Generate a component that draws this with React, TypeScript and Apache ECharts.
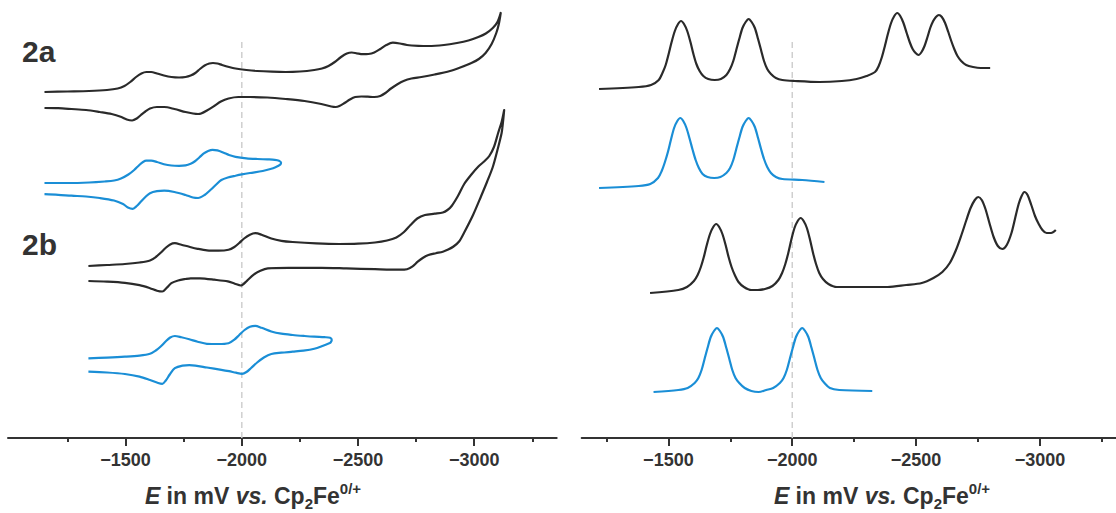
import { useEffect, useRef } from "react";
import * as echarts from "echarts";

// Potential axis (mV vs Cp2Fe0/+), drawn reversed
const majorTicks = [-1500, -2000, -2500, -3000];
const minorTicks = [-1250, -1750, -2250, -2750, -3250];
const refPotential = -2000;
const refLineTop = 396;

// Left panel: cyclic voltammograms [E (mV), I (a.u., stacked offset)]
const cv2aBlack: [number, number][] = [
  [-1151, 346], [-1250, 346.5], [-1343, 347], [-1420, 348], [-1466, 349.5], [-1495, 352],
  [-1520, 356], [-1545, 361], [-1568, 364.5], [-1589, 366], [-1610, 366], [-1635, 364.5],
  [-1665, 362.5], [-1697, 361], [-1730, 360.5], [-1758, 361], [-1780, 362.5], [-1800, 365],
  [-1820, 369], [-1840, 372.5], [-1860, 374.5], [-1876, 375], [-1895, 374.5], [-1915, 373],
  [-1945, 371], [-1973, 369.5], [-2020, 368], [-2066, 367], [-2130, 366.3], [-2189, 366],
  [-2250, 366.5], [-2312, 368], [-2345, 369.5], [-2373, 372], [-2400, 376], [-2427, 381],
  [-2452, 384.5], [-2473, 385.5], [-2495, 384.7], [-2520, 383.8], [-2545, 384], [-2570, 385.5],
  [-2596, 389], [-2622, 393], [-2650, 395.3], [-2680, 394.5], [-2711, 393], [-2760, 392.2],
  [-2803, 392], [-2870, 393], [-2926, 395], [-2975, 397.5], [-3018, 401], [-3050, 404.5],
  [-3080, 410], [-3100, 416], [-3114, 425],
  [-3106, 414], [-3095, 405], [-3075, 394], [-3049, 385], [-3020, 379], [-2988, 375],
  [-2940, 370.5], [-2896, 367], [-2830, 363.5], [-2773, 361], [-2730, 359.5], [-2696, 357],
  [-2668, 353.5], [-2642, 349.5], [-2618, 345], [-2596, 342], [-2570, 341], [-2542, 341.3],
  [-2515, 341.5], [-2488, 341], [-2465, 338.5], [-2442, 335], [-2420, 332], [-2404, 331],
  [-2385, 331.5], [-2342, 334], [-2270, 337], [-2189, 339], [-2110, 340.5], [-2035, 341],
  [-1985, 341], [-1943, 339.5], [-1910, 336.5], [-1881, 332], [-1850, 327.5], [-1825, 324.5],
  [-1812, 324], [-1790, 324.5], [-1758, 326], [-1710, 329], [-1666, 331], [-1635, 331],
  [-1605, 329.5], [-1585, 326.5], [-1566, 323], [-1548, 319.5], [-1528, 317.5], [-1505, 318.5],
  [-1482, 321], [-1440, 324], [-1389, 326], [-1330, 328], [-1267, 329], [-1210, 329.8],
  [-1151, 330],
];
const cv2aBlue: [number, number][] = [
  [-1151, 255], [-1250, 255], [-1343, 255.5], [-1410, 256.5], [-1451, 257.5], [-1480, 259.5],
  [-1512, 263.5], [-1537, 268], [-1559, 273], [-1575, 276], [-1589, 277.3], [-1610, 277.3],
  [-1635, 276], [-1665, 273.8], [-1697, 272.5], [-1730, 272.2], [-1758, 272.6], [-1780, 274.2],
  [-1797, 276.5], [-1817, 280.5], [-1835, 284.3], [-1855, 287], [-1874, 288.2], [-1895, 287.6],
  [-1920, 285.5], [-1945, 283], [-1973, 281.2], [-2020, 279.7], [-2066, 279], [-2110, 278.6],
  [-2142, 278.2], [-2160, 277.3], [-2169, 275.3],
  [-2166, 273.5], [-2158, 272.3], [-2145, 270.8], [-2127, 269.2], [-2090, 267], [-2035, 265],
  [-2000, 263.6], [-1973, 262.3], [-1940, 260.5], [-1912, 258], [-1890, 253.5], [-1866, 248.2],
  [-1840, 243], [-1812, 240], [-1790, 240.5], [-1758, 243], [-1710, 246], [-1666, 247.3],
  [-1635, 246.8], [-1605, 244.8], [-1585, 241], [-1566, 236.5], [-1548, 232], [-1531, 229.2],
  [-1510, 230.5], [-1489, 234], [-1450, 237.5], [-1389, 240], [-1330, 241.5], [-1267, 242.3],
  [-1210, 243.2], [-1151, 243.8],
];
const cv2bBlack: [number, number][] = [
  [-1340, 172], [-1420, 173], [-1497, 174], [-1560, 175.5], [-1605, 177.5], [-1630, 181],
  [-1651, 185.3], [-1672, 190], [-1692, 193.6], [-1712, 194.8], [-1740, 193.3], [-1774, 191.2],
  [-1810, 189.2], [-1850, 187.6], [-1900, 187.3], [-1943, 188.2], [-1968, 191], [-1989, 195],
  [-2010, 199.5], [-2035, 203.3], [-2058, 204.8], [-2085, 203.3], [-2127, 199.5], [-2170, 197.2],
  [-2219, 196], [-2320, 194.6], [-2419, 194], [-2500, 194.3], [-2573, 195.5], [-2625, 197.5],
  [-2665, 200.5], [-2698, 206], [-2726, 213], [-2755, 219.5], [-2788, 223], [-2830, 224.3],
  [-2865, 225.5], [-2885, 228], [-2903, 232], [-2930, 242], [-2957, 254], [-2988, 263.5],
  [-3018, 271.5], [-3045, 277], [-3065, 282], [-3085, 291], [-3103, 305], [-3118, 316],
  [-3129, 328],
  [-3124, 316], [-3118, 305], [-3100, 288], [-3080, 271], [-3055, 256], [-3030, 242],
  [-2995, 223], [-2957, 205.5], [-2935, 196.5], [-2911, 191.5], [-2888, 188.5], [-2865, 186.3],
  [-2835, 184.8], [-2803, 183], [-2780, 180.2], [-2757, 176.3], [-2735, 171.7], [-2711, 168.8],
  [-2680, 168.3], [-2573, 168.8], [-2450, 169.6], [-2342, 170.2], [-2200, 170.2], [-2112, 169.7],
  [-2080, 167.3], [-2050, 163.2], [-2022, 157.2], [-1996, 152.5], [-1970, 154.3], [-1940, 156.6],
  [-1881, 158.3], [-1820, 159.6], [-1780, 159.7], [-1758, 159], [-1726, 157.5], [-1697, 154.8],
  [-1676, 150], [-1658, 146.5], [-1635, 147.3], [-1605, 149.8], [-1560, 152.8], [-1497, 155.2],
  [-1420, 156.4], [-1340, 157],
];
const cv2bBlue: [number, number][] = [
  [-1340, 79.7], [-1420, 80.4], [-1497, 81.3], [-1560, 82.4], [-1605, 84.2], [-1630, 87.5],
  [-1651, 91.5], [-1672, 96.5], [-1692, 100.5], [-1712, 102], [-1740, 100.7], [-1774, 98.7],
  [-1810, 96.3], [-1850, 94.2], [-1900, 94], [-1943, 94.8], [-1968, 98.3], [-1989, 103],
  [-2012, 108], [-2035, 111.3], [-2058, 112.2], [-2085, 110.2], [-2127, 106.5], [-2170, 104.3],
  [-2219, 103], [-2270, 102], [-2312, 101.3], [-2355, 100.8], [-2380, 100.3], [-2387, 98],
  [-2382, 95.5], [-2376, 94.7], [-2350, 92.3], [-2312, 89.2], [-2265, 87.3], [-2219, 86.3],
  [-2170, 85.3], [-2127, 84], [-2095, 80.5], [-2066, 75.5], [-2040, 70], [-2020, 66],
  [-2001, 64.2], [-1975, 65.3], [-1945, 66.8], [-1912, 68.2], [-1850, 70.5], [-1800, 72.4],
  [-1774, 72.8], [-1745, 72.4], [-1712, 69.8], [-1690, 63.5], [-1673, 57.5], [-1658, 54.2],
  [-1640, 55], [-1605, 58], [-1560, 61.4], [-1497, 64], [-1420, 65.5], [-1340, 66.3],
];

// Right panel: differential pulse voltammograms [E (mV), I (a.u., stacked offset)]
const dpv2aBlack: [number, number][] = [
  [-1220, 349], [-1380, 351], [-1430, 353], [-1461, 358], [-1476, 365], [-1489, 373],
  [-1501, 384], [-1513, 396], [-1526, 407], [-1539, 414], [-1551, 417], [-1563, 414],
  [-1576, 407], [-1589, 396], [-1601, 384], [-1613, 374], [-1626, 367], [-1641, 362],
  [-1661, 359], [-1687, 358], [-1712, 359], [-1734, 363], [-1749, 369], [-1762, 377],
  [-1774, 388], [-1786, 399], [-1799, 410], [-1812, 416], [-1824, 419], [-1836, 416],
  [-1849, 410], [-1862, 399], [-1874, 388], [-1886, 377], [-1899, 369], [-1914, 364],
  [-1934, 360], [-1960, 358], [-2010, 357], [-2110, 356], [-2200, 357], [-2260, 359],
  [-2300, 362], [-2334, 366], [-2349, 372], [-2362, 381], [-2374, 392], [-2386, 404],
  [-2399, 415], [-2412, 422], [-2424, 425], [-2436, 422], [-2449, 415], [-2462, 405],
  [-2474, 396], [-2486, 389], [-2498, 385], [-2510, 383], [-2522, 386], [-2534, 392],
  [-2546, 401], [-2557, 410], [-2569, 417], [-2580, 421], [-2592, 423], [-2604, 421],
  [-2617, 415], [-2630, 406], [-2642, 397], [-2654, 389], [-2667, 382], [-2682, 377],
  [-2702, 373], [-2730, 371], [-2760, 370], [-2799, 370],
];
const dpv2aBlue: [number, number][] = [
  [-1220, 250], [-1380, 252], [-1427, 254], [-1458, 260], [-1473, 267], [-1486, 276],
  [-1498, 286], [-1510, 298], [-1523, 310], [-1536, 317], [-1548, 320], [-1560, 317],
  [-1573, 310], [-1586, 299], [-1598, 288], [-1610, 278], [-1623, 270], [-1638, 264],
  [-1658, 261], [-1685, 260], [-1710, 261], [-1734, 265], [-1749, 270], [-1762, 278],
  [-1774, 289], [-1786, 300], [-1799, 311], [-1812, 317], [-1824, 320], [-1836, 317],
  [-1849, 311], [-1862, 300], [-1874, 289], [-1886, 279], [-1899, 271], [-1914, 265],
  [-1934, 261], [-1960, 259], [-2040, 258], [-2130, 256],
];
const dpv2bBlack: [number, number][] = [
  [-1426, 145], [-1540, 148], [-1575, 151], [-1603, 157], [-1618, 163], [-1631, 171],
  [-1643, 181], [-1655, 193], [-1668, 204], [-1681, 211], [-1693, 214], [-1705, 211],
  [-1718, 204], [-1731, 193], [-1743, 181], [-1755, 171], [-1768, 163], [-1783, 156],
  [-1805, 151], [-1835, 148], [-1861, 148], [-1890, 149], [-1920, 152], [-1944, 158],
  [-1959, 165], [-1972, 174], [-1984, 185], [-1996, 198], [-2009, 210], [-2022, 217],
  [-2034, 220], [-2046, 217], [-2059, 210], [-2072, 198], [-2084, 185], [-2096, 174],
  [-2109, 165], [-2124, 159], [-2146, 154], [-2180, 151], [-2300, 151], [-2385, 151],
  [-2460, 153], [-2523, 155], [-2570, 160], [-2606, 166], [-2636, 175], [-2661, 188],
  [-2683, 203], [-2703, 218], [-2720, 230], [-2737, 238], [-2751, 241], [-2765, 238],
  [-2780, 229], [-2796, 215], [-2813, 201], [-2830, 192], [-2848, 189], [-2866, 193],
  [-2885, 205], [-2900, 220], [-2914, 234], [-2926, 242], [-2937, 246], [-2950, 243],
  [-2965, 233], [-2980, 222], [-2993, 215], [-3010, 208], [-3027, 205], [-3045, 205],
  [-3064, 208],
];
const dpv2bBlue: [number, number][] = [
  [-1440, 46], [-1540, 48], [-1578, 50], [-1606, 55], [-1621, 60], [-1634, 68],
  [-1646, 79], [-1658, 90], [-1671, 101], [-1684, 107], [-1696, 110], [-1708, 107],
  [-1721, 101], [-1734, 90], [-1746, 79], [-1758, 68], [-1771, 60], [-1786, 55],
  [-1808, 50], [-1835, 47], [-1864, 46], [-1895, 48], [-1923, 50], [-1950, 55],
  [-1965, 60], [-1978, 68], [-1990, 79], [-2002, 90], [-2015, 101], [-2028, 107],
  [-2040, 110], [-2052, 107], [-2065, 101], [-2078, 90], [-2090, 79], [-2102, 68],
  [-2115, 60], [-2130, 55], [-2152, 50], [-2190, 48], [-2323, 47],
];

const BLACK = "#2a2a2a";
const BLUE = "#1a8ed6";
const AXIS = "#333333";
const FONT = "'Liberation Sans', Arial, Helvetica, sans-serif";

const minus = (v: number) => "\u2212" + Math.abs(v);

function xAxesFor(gridIndex: number, min: number, max: number) {
  return [
    {
      type: "value", gridIndex, min, max, inverse: true, position: "bottom",
      splitLine: { show: false },
      axisLine: { show: true, onZero: false, lineStyle: { color: AXIS, width: 2 } },
      axisTick: { show: true, customValues: majorTicks, length: 8, lineStyle: { color: AXIS, width: 2 } },
      axisLabel: {
        show: true, customValues: majorTicks, formatter: minus, margin: 13,
        color: AXIS, fontSize: 18, fontWeight: "bold", fontFamily: FONT,
      },
    },
    {
      type: "value", gridIndex, min, max, inverse: true, position: "bottom",
      splitLine: { show: false },
      axisLine: { show: false, onZero: false },
      axisTick: { show: true, customValues: minorTicks, length: 4, lineStyle: { color: AXIS, width: 2 } },
      axisLabel: { show: false },
    },
  ];
}

function curve(data: [number, number][], color: string, xAxisIndex: number, yAxisIndex: number) {
  return {
    type: "line", data, xAxisIndex, yAxisIndex, smooth: 0.3, showSymbol: false,
    symbol: "none", lineStyle: { color, width: 2.2, join: "round" }, silent: true, clip: false,
  };
}

function refLine(xAxisIndex: number, yAxisIndex: number) {
  return {
    type: "line", data: [[refPotential, 0], [refPotential, refLineTop]], xAxisIndex, yAxisIndex,
    showSymbol: false, symbol: "none", silent: true,
    lineStyle: { color: "#cfcfcf", width: 1.5, type: [6, 4] }, z: 1,
  };
}

const titleRich = {
  i: { fontSize: 23, fontWeight: "bold", fontStyle: "italic", fontFamily: FONT, fill: AXIS, lineHeight: 30 },
  b: { fontSize: 23, fontWeight: "bold", fontFamily: FONT, fill: AXIS, lineHeight: 30 },
  sub: { fontSize: 15, fontWeight: "bold", fontFamily: FONT, fill: AXIS, lineHeight: 30, verticalAlign: "bottom" },
  sup: { fontSize: 15, fontWeight: "bold", fontFamily: FONT, fill: AXIS, lineHeight: 30, verticalAlign: "top" },
};
const titleText = "{i|E}{b| in mV }{i|vs.}{b| Cp}{sub|2}{b|Fe}{sup|0/+}";

export default function App() {
  const ref = useRef<HTMLDivElement>(null);
  useEffect(() => {
    if (!ref.current) return;
    const chart = echarts.init(ref.current, null, { renderer: "svg" });
    chart.setOption({
      animation: false,
      backgroundColor: "#ffffff",
      grid: [
        { left: 8, top: 0, width: 548.7, height: 438 },
        { left: 581.7, top: 0, width: 534.3, height: 438 },
      ],
      xAxis: [...xAxesFor(0, -3355, -994), ...xAxesFor(1, -3307, -1150)],
      yAxis: [
        { type: "value", gridIndex: 0, min: 0, max: 438, show: false },
        { type: "value", gridIndex: 1, min: 0, max: 438, show: false },
      ],
      series: [
        refLine(0, 0),
        refLine(2, 1),
        curve(cv2aBlack, BLACK, 0, 0),
        curve(cv2aBlue, BLUE, 0, 0),
        curve(cv2bBlack, BLACK, 0, 0),
        curve(cv2bBlue, BLUE, 0, 0),
        curve(dpv2aBlack, BLACK, 2, 1),
        curve(dpv2aBlue, BLUE, 2, 1),
        curve(dpv2bBlack, BLACK, 2, 1),
        curve(dpv2bBlue, BLUE, 2, 1),
      ],
      graphic: [
        { type: "text", left: 22, top: 36, style: { text: "2a", fontSize: 30, fontWeight: "bold", fontFamily: FONT, fill: AXIS } },
        { type: "text", left: 22, top: 229, style: { text: "2b", fontSize: 30, fontWeight: "bold", fontFamily: FONT, fill: AXIS } },
        { type: "text", x: 253, y: 496, style: { text: titleText, rich: titleRich, align: "center", verticalAlign: "middle" } },
        { type: "text", x: 882, y: 496, style: { text: titleText, rich: titleRich, align: "center", verticalAlign: "middle" } },
      ],
    });
    return () => chart.dispose();
  }, []);
  return (
    <div
      ref={ref}
      style={{ position: "absolute", left: 0, top: 0, width: 1116, height: 513, background: "#fff" }}
    />
  );
}
